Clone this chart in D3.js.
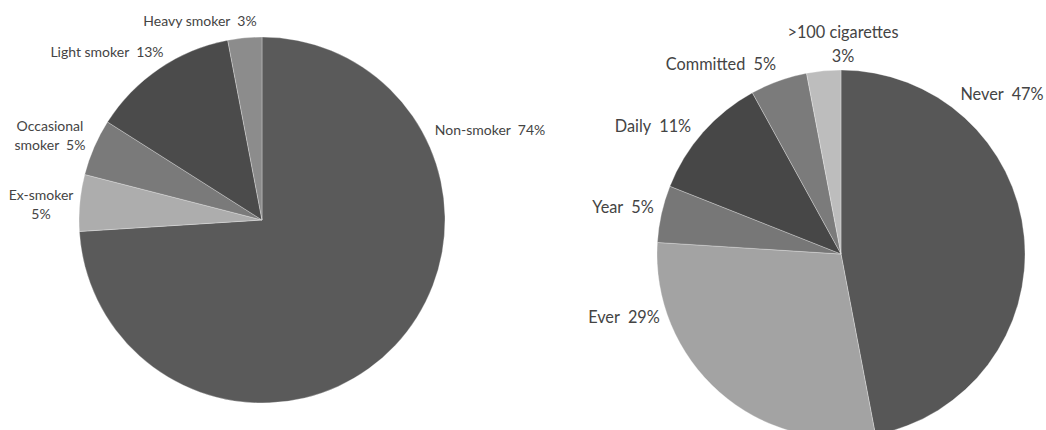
<!DOCTYPE html>
<html><head><meta charset="utf-8">
<script src="https://cdn.jsdelivr.net/npm/d3@7"></script>
<style>body{margin:0;background:#fff}text{font-family:Lato,"Open Sans",sans-serif;fill:#444;white-space:pre}</style>
</head><body><svg id="c" width="1046" height="430"></svg>
<script>
const leftCategories = ["Non-smoker","Ex-smoker","Occasional smoker","Light smoker","Heavy smoker"];
const leftValues = [74,5,5,13,3];
const leftColors = ["#5a5a5a","#adadad","#7a7a7a","#4b4b4b","#8c8c8c"];
const rightCategories = ["Never","Ever","Year","Daily","Committed",">100 cigarettes"];
const rightValues = [47,29,5,11,5,3];
const rightColors = ["#575757","#a3a3a3","#777777","#474747","#7b7b7b","#bdbdbd"];

const leftLabels = [
  {lines:["Non-smoker  74%"], x:490, y:135},
  {lines:["Ex-smoker","5%"], x:41, y:200},
  {lines:["Occasional","smoker  5%"], x:50, y:131},
  {lines:["Light smoker  13%"], x:107, y:57},
  {lines:["Heavy smoker  3%"], x:200, y:26}
];
const rightLabels = [
  {lines:["Never  47%"], x:1002, y:100},
  {lines:["Ever  29%"], x:624, y:323},
  {lines:["Year  5%"], x:623, y:213},
  {lines:["Daily  11%"], x:653, y:132},
  {lines:["Committed  5%"], x:721, y:70},
  {lines:[">100 cigarettes","3%"], x:843, y:38}
];

const svg = d3.select("#c");
function drawPie(cx, cy, r, values, colors, labels, fs, lh){
  const pie = d3.pie().sort(null).value(d=>d)(values);
  const arc = d3.arc().innerRadius(0).outerRadius(r);
  const g = svg.append("g").attr("transform",`translate(${cx},${cy})`);
  g.selectAll("path").data(pie).join("path")
    .attr("d",arc).attr("fill",(d,i)=>colors[i])
    .attr("stroke","#fff").attr("stroke-width",0.3);
  labels.forEach(l=>{
    const t = svg.append("text").attr("text-anchor","middle").attr("font-size",fs);
    l.lines.forEach((s,j)=>t.append("tspan").attr("x",l.x).attr("y",l.y+j*lh).text(s));
  });
}
drawPie(262,220,183,leftValues,leftColors,leftLabels,"14px",19);
drawPie(841,254,184,rightValues,rightColors,rightLabels,"16.3px",24);
</script></body></html>
